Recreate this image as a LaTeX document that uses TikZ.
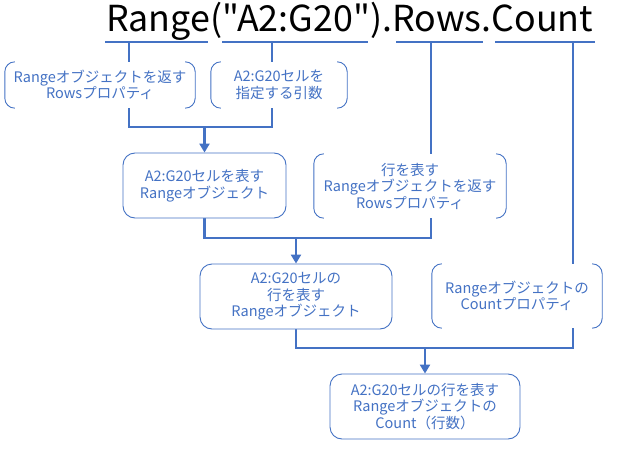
\documentclass[tikz,border=0pt]{standalone}
\usepackage{fontspec}
\setmainfont{Noto Sans CJK JP}
\newfontfamily\codefont{Noto Sans CJK JP}
\usetikzlibrary{arrows.meta,calc,backgrounds}
\definecolor{oblue}{HTML}{4472C4}
\tikzset{
  conn/.style={draw=oblue, line width=2.6pt},
  arr/.style={conn, -{Triangle[length=9pt,width=10pt]}},
  txtbox/.style={inner sep=0pt, align=center, text=oblue, fill=white,
    font=\fontsize{14.5}{16.5}\selectfont},
  roundbox/.style={txtbox, draw=oblue, line width=0.9pt, rounded corners=12pt},
  bracketbox/.style={txtbox},
  bline/.style={draw=oblue, line width=0.9pt, rounded corners=10pt},
}
\newcommand\drawbrackets[1]{%
  \draw[bline] ($(#1.north west)+(10,0)$) -- (#1.north west) -- (#1.south west) -- ($(#1.south west)+(10,0)$);
  \draw[bline] ($(#1.north east)+(-10,0)$) -- (#1.north east) -- (#1.south east) -- ($(#1.south east)+(-10,0)$);}
\begin{document}
\begin{tikzpicture}[x=1pt,y=-1pt]
\useasboundingbox (0,0) rectangle (620,449);
% top code line
\node[anchor=base west, inner sep=0pt, font=\codefont\fontsize{35.8}{40}\selectfont] (code) at (106,32) {Range("A2:G20").Rows.Count};
% underline coordinates
\coordinate (uR1) at (105,42); \coordinate (uR2) at (208,42);
\coordinate (uA1) at (222,42); \coordinate (uA2) at (368,42);
\coordinate (uW1) at (396,42); \coordinate (uW2) at (483,42);
\coordinate (uC1) at (495,42); \coordinate (uC2) at (595,42);
\coordinate (tR) at (129,42); \coordinate (tA) at (272,42);
\coordinate (tW) at (431,42); \coordinate (tC) at (573,42);
\coordinate (j1) at (0,127); \coordinate (j2) at (0,238); \coordinate (j3) at (0,348);
% boxes
\node[bracketbox, minimum width=190pt, minimum height=46pt] (b1) at (100,85)
  {Rangeオブジェクトを返す\\Rowsプロパティ};
\node[bracketbox, minimum width=136pt, minimum height=46pt] (b2) at (279,85)
  {A2:G20セルを\\指定する引数};
\node[roundbox, minimum width=163pt, minimum height=65pt] (b3) at (204.5,185.5)
  {A2:G20セルを表す\\Rangeオブジェクト};
\node[bracketbox, minimum width=192pt, minimum height=64pt] (b4) at (410,186)
  {行を表す\\Rangeオブジェクトを返す\\Rowsプロパティ};
\node[roundbox, minimum width=192pt, minimum height=65pt] (b5) at (296,296.5)
  {A2:G20セルの\\行を表す\\Rangeオブジェクト};
\node[bracketbox, minimum width=170pt, minimum height=64pt] (b6) at (517,296)
  {Rangeオブジェクトの\\Countプロパティ};
\node[roundbox, minimum width=190pt, minimum height=65pt] (b7) at (425,406.5)
  {A2:G20セルの行を表す\\Rangeオブジェクトの\\Count（行数）};
\drawbrackets{b1}
\drawbrackets{b2}
\drawbrackets{b4}
\drawbrackets{b6}
% connectors
\begin{scope}[on background layer]
  \draw[conn] (uR1) -- (uR2);
  \draw[conn] (uA1) -- (uA2);
  \draw[conn] (uW1) -- (uW2);
  \draw[conn] (uC1) -- (uC2);
  \draw[conn] (tR) -- (tR |- j1) -- (tA |- j1) -- (tA);
  \draw[conn] (b3.south) -- (b3.south |- j2) -- (tW |- j2) -- (tW);
  \draw[conn] (b5.south) -- (b5.south |- j3) -- (tC |- j3) -- (tC);
\end{scope}
\draw[arr] (b3.north |- j1) -- (b3.north);
\draw[arr] (b5.north |- j2) -- (b5.north);
\draw[arr] (b7.north |- j3) -- (b7.north);
\end{tikzpicture}
\end{document}
